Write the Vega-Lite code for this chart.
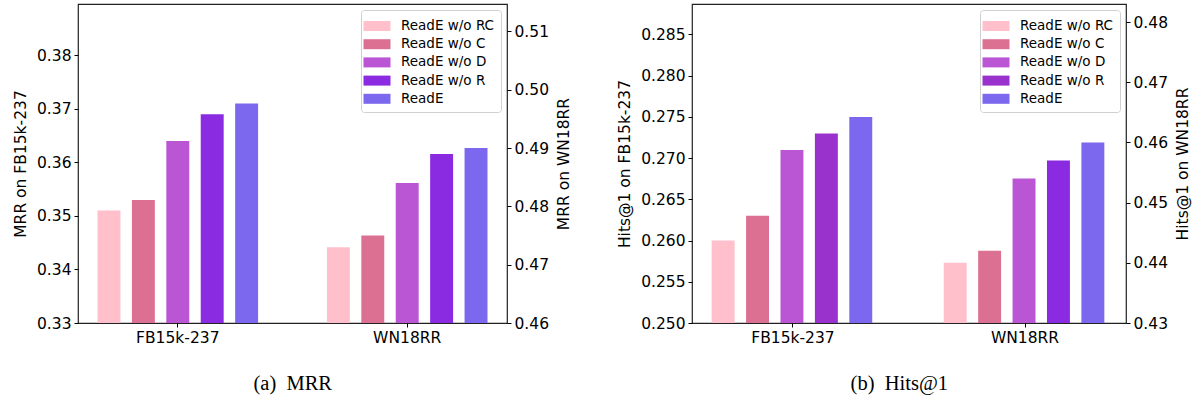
{
  "$schema": "https://vega.github.io/schema/vega-lite/v6.json",
  "autosize": {"type": "pad"},
  "padding": {"left": 12, "top": 3, "right": 0, "bottom": 0},
  "background": "white",
  "config": {
    "font": "DejaVu Sans",
    "view": {"stroke": "#222", "strokeWidth": 1.2},
    "concat": {"spacing": 44},
    "axis": {
      "domain": false, "grid": false, "tickColor": "#000", "tickSize": 4, "tickWidth": 1,
      "labelFont": "DejaVu Sans", "labelFontSize": 15.5, "labelColor": "#000", "labelPadding": 3,
      "titleFont": "DejaVu Sans", "titleFontSize": 15.5, "titleFontWeight": "normal", "titleColor": "#000", "titlePadding": 8
    },
    "legend": {
      "title": null, "orient": "top-right", "offset": 6,
      "symbolType": "M-1.35,-0.5H1.35V0.5H-1.35Z", "symbolSize": 400, "symbolStrokeWidth": 0, "symbolOpacity": 1,
      "labelFont": "DejaVu Sans", "labelFontSize": 13.5, "labelColor": "#000", "labelOffset": 14,
      "rowPadding": 1.2, "padding": 6, "strokeColor": "#d0d0d0", "fillColor": "white", "cornerRadius": 3
    },
    "title": {"font": "Liberation Serif", "fontSize": 20.5, "fontWeight": "normal", "color": "#000", "offset": 28, "frame": "bounds"}
  },
  "datasets": {
    "scores": [
      {"metric": "MRR", "dataset": "FB15k-237", "variant": "ReadE w/o RC", "value": 0.351},
      {"metric": "MRR", "dataset": "FB15k-237", "variant": "ReadE w/o C", "value": 0.353},
      {"metric": "MRR", "dataset": "FB15k-237", "variant": "ReadE w/o D", "value": 0.364},
      {"metric": "MRR", "dataset": "FB15k-237", "variant": "ReadE w/o R", "value": 0.369},
      {"metric": "MRR", "dataset": "FB15k-237", "variant": "ReadE", "value": 0.371},
      {"metric": "MRR", "dataset": "WN18RR", "variant": "ReadE w/o RC", "value": 0.473},
      {"metric": "MRR", "dataset": "WN18RR", "variant": "ReadE w/o C", "value": 0.475},
      {"metric": "MRR", "dataset": "WN18RR", "variant": "ReadE w/o D", "value": 0.484},
      {"metric": "MRR", "dataset": "WN18RR", "variant": "ReadE w/o R", "value": 0.489},
      {"metric": "MRR", "dataset": "WN18RR", "variant": "ReadE", "value": 0.490},
      {"metric": "Hits@1", "dataset": "FB15k-237", "variant": "ReadE w/o RC", "value": 0.260},
      {"metric": "Hits@1", "dataset": "FB15k-237", "variant": "ReadE w/o C", "value": 0.263},
      {"metric": "Hits@1", "dataset": "FB15k-237", "variant": "ReadE w/o D", "value": 0.271},
      {"metric": "Hits@1", "dataset": "FB15k-237", "variant": "ReadE w/o R", "value": 0.273},
      {"metric": "Hits@1", "dataset": "FB15k-237", "variant": "ReadE", "value": 0.275},
      {"metric": "Hits@1", "dataset": "WN18RR", "variant": "ReadE w/o RC", "value": 0.440},
      {"metric": "Hits@1", "dataset": "WN18RR", "variant": "ReadE w/o C", "value": 0.442},
      {"metric": "Hits@1", "dataset": "WN18RR", "variant": "ReadE w/o D", "value": 0.454},
      {"metric": "Hits@1", "dataset": "WN18RR", "variant": "ReadE w/o R", "value": 0.457},
      {"metric": "Hits@1", "dataset": "WN18RR", "variant": "ReadE", "value": 0.460}
    ]
  },
  "data": {"name": "scores"},
  "resolve": {"scale": {"color": "independent"}, "legend": {"color": "independent"}},
  "hconcat": [
    {
      "width": 429, "height": 319,
      "title": {"text": "(a)\u00a0\u00a0MRR", "orient": "bottom"},
      "transform": [{"filter": "datum.metric === 'MRR'"}],
      "encoding": {
        "x": {"field": "dataset", "type": "nominal", "sort": ["FB15k-237", "WN18RR"],
              "scale": {"domain": ["FB15k-237", "WN18RR"], "paddingInner": 0.25, "paddingOuter": 0.06},
              "axis": {"title": null, "labelAngle": 0}},
        "xOffset": {"field": "variant", "type": "nominal",
              "scale": {"domain": ["ReadE w/o RC", "ReadE w/o C", "ReadE w/o D", "ReadE w/o R", "ReadE"], "paddingInner": 0.3333, "paddingOuter": 0.1667}},
        "color": {"field": "variant", "type": "nominal",
              "scale": {"domain": ["ReadE w/o RC", "ReadE w/o C", "ReadE w/o D", "ReadE w/o R", "ReadE"],
                        "range": ["#FFC0CB", "#DB7093", "#BA55D3", "#8A2BE2", "#7B68EE"]}}
      },
      "layer": [
        {
          "transform": [{"filter": "datum.dataset === 'FB15k-237'"}],
          "mark": {"type": "bar"},
          "encoding": {
            "y": {"field": "value", "type": "quantitative",
                  "scale": {"domain": [0.33, 0.3896], "nice": false, "zero": false},
                  "axis": {"orient": "left", "title": "MRR on FB15k-237", "values": [0.33, 0.34, 0.35, 0.36, 0.37, 0.38], "format": ".2f"}},
            "y2": {"datum": 0.33}
          }
        },
        {
          "transform": [{"filter": "datum.dataset === 'WN18RR'"}],
          "mark": {"type": "bar"},
          "encoding": {
            "y": {"field": "value", "type": "quantitative",
                  "scale": {"domain": [0.46, 0.5147], "nice": false, "zero": false},
                  "axis": {"orient": "right", "title": "MRR on WN18RR", "titleAngle": 270, "titleBaseline": "top", "values": [0.46, 0.47, 0.48, 0.49, 0.50, 0.51], "format": ".2f"}},
            "y2": {"datum": 0.46}
          }
        }
      ],
      "resolve": {"scale": {"y": "independent"}}
    },
    {
      "width": 434, "height": 319,
      "title": {"text": "(b)\u00a0\u00a0Hits@1", "orient": "bottom", "dx": -5},
      "transform": [{"filter": "datum.metric === 'Hits@1'"}],
      "encoding": {
        "x": {"field": "dataset", "type": "nominal", "sort": ["FB15k-237", "WN18RR"],
              "scale": {"domain": ["FB15k-237", "WN18RR"], "paddingInner": 0.25, "paddingOuter": 0.06},
              "axis": {"title": null, "labelAngle": 0}},
        "xOffset": {"field": "variant", "type": "nominal",
              "scale": {"domain": ["ReadE w/o RC", "ReadE w/o C", "ReadE w/o D", "ReadE w/o R", "ReadE"], "paddingInner": 0.3333, "paddingOuter": 0.1667}}
      },
      "layer": [
        {
          "transform": [{"filter": "datum.dataset === 'FB15k-237'"}],
          "mark": {"type": "bar"},
          "encoding": {
            "color": {"field": "variant", "type": "nominal",
                  "scale": {"domain": ["ReadE w/o RC", "ReadE w/o C", "ReadE w/o D", "ReadE w/o R", "ReadE"],
                            "range": ["#FFC0CB", "#DB7093", "#BA55D3", "#9932CC", "#7B68EE"]}},
            "y": {"field": "value", "type": "quantitative",
                  "scale": {"domain": [0.25, 0.2887], "nice": false, "zero": false},
                  "axis": {"orient": "left", "title": "Hits@1 on FB15k-237", "values": [0.25, 0.255, 0.26, 0.265, 0.27, 0.275, 0.28, 0.285], "format": ".3f"}},
            "y2": {"datum": 0.25}
          }
        },
        {
          "transform": [{"filter": "datum.dataset === 'WN18RR'"}],
          "mark": {"type": "bar"},
          "encoding": {
            "color": {"condition": {"test": "datum.variant === 'ReadE w/o R'", "value": "#8A2BE2"},
                  "field": "variant", "type": "nominal",
                  "scale": {"domain": ["ReadE w/o RC", "ReadE w/o C", "ReadE w/o D", "ReadE w/o R", "ReadE"],
                            "range": ["#FFC0CB", "#DB7093", "#BA55D3", "#9932CC", "#7B68EE"]}},
            "y": {"field": "value", "type": "quantitative",
                  "scale": {"domain": [0.43, 0.483], "nice": false, "zero": false},
                  "axis": {"orient": "right", "title": "Hits@1 on WN18RR", "titleAngle": 270, "titleBaseline": "top", "values": [0.43, 0.44, 0.45, 0.46, 0.47, 0.48], "format": ".2f"}},
            "y2": {"datum": 0.43}
          }
        }
      ],
      "resolve": {"scale": {"y": "independent"}}
    }
  ]
}
